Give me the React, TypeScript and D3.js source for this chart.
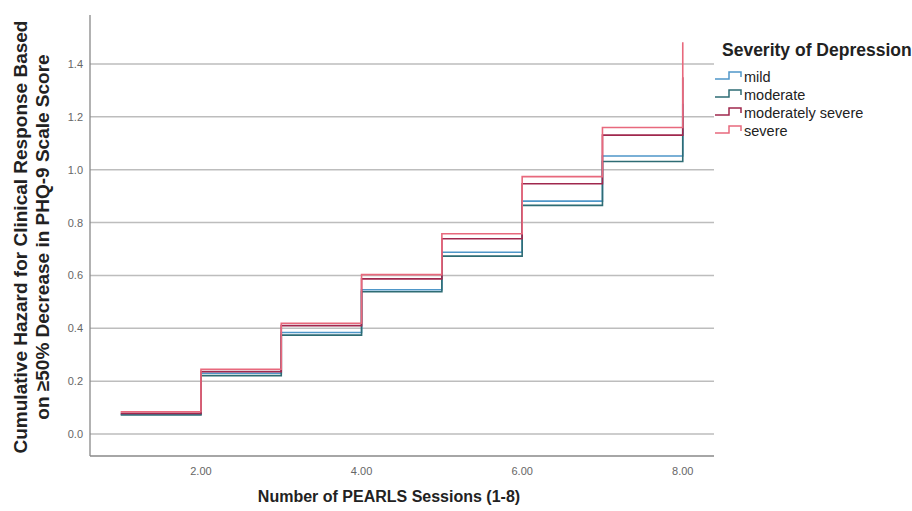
import React from "react";
import * as d3 from "d3";

// sessions and cumulative hazard
const sessions = [1, 2, 3, 4, 5, 6, 7, 8];
const mild = [0.075, 0.23, 0.384, 0.546, 0.688, 0.881, 1.052, 1.25];
const moderate = [0.072, 0.221, 0.374, 0.538, 0.673, 0.865, 1.031, 1.2];
const modSevere = [0.078, 0.236, 0.41, 0.587, 0.739, 0.947, 1.131, 1.35];
const severe = [0.084, 0.245, 0.419, 0.603, 0.758, 0.974, 1.16, 1.482];

const seriesNames = ["mild", "moderate", "moderately severe", "severe"];
const seriesValues = [mild, moderate, modSevere, severe];
const colors = ["#4f97c9", "#2e6c74", "#a0284e", "#e8697d"];

const xTicks = [2, 4, 6, 8];
const yTicks = [0, 0.2, 0.4, 0.6, 0.8, 1.0, 1.2, 1.4];

const W = 912;
const H = 511;
const font = "'Liberation Sans', Arial, sans-serif";

export default function App() {
  const left = 90, right = 714, top = 15, bottom = 456;

  const x = d3.scaleLinear().domain([0.618, 8.389]).range([left, right]);
  const y = d3.scaleLinear().domain([-0.0832, 1.5854]).range([bottom, top]);

  const line = d3
    .line<[number, number]>()
    .x((d) => x(d[0]))
    .y((d) => y(d[1]))
    .curve(d3.curveStepAfter);

  const legendX = 715;
  const legendY = [79, 97, 115, 133];

  return (
    <svg
      width={W}
      height={H}
      style={{ position: "absolute", left: 0, top: 0, background: "#fff" }}
      fontFamily={font}
    >
      {/* grid */}
      {yTicks.map((t) => (
        <line
          key={t}
          x1={left}
          x2={right}
          y1={y(t)}
          y2={y(t)}
          stroke="#bdbdbd"
          strokeWidth={1.5}
        />
      ))}
      {yTicks.map((t) => (
        <text
          key={"l" + t}
          x={83}
          y={y(t) + 4}
          fontSize={11}
          fill="#666"
          textAnchor="end"
        >
          {t.toFixed(1)}
        </text>
      ))}

      {/* axes */}
      <line x1={left} x2={left} y1={top} y2={bottom} stroke="#888" strokeWidth={1.3} />
      <line x1={left} x2={right} y1={bottom} y2={bottom} stroke="#888" strokeWidth={1.3} />
      {xTicks.map((t) => (
        <text
          key={"x" + t}
          x={x(t)}
          y={475}
          fontSize={11}
          fill="#666"
          textAnchor="middle"
        >
          {t.toFixed(2)}
        </text>
      ))}

      {/* step lines */}
      {seriesValues.map((vals, i) => (
        <path
          key={seriesNames[i]}
          d={line(sessions.map((s, j) => [s, vals[j]] as [number, number])) || ""}
          fill="none"
          stroke={colors[i]}
          strokeWidth={1.6}
        />
      ))}

      {/* axis titles */}
      <text
        x={389}
        y={502}
        fontSize={16}
        fontWeight="bold"
        fill="#222"
        textAnchor="middle"
      >
        Number of PEARLS Sessions (1-8)
      </text>
      <g transform="translate(27,237) rotate(-90)">
        <text x={0} y={0} fontSize={19} fontWeight="bold" fill="#222" textAnchor="middle">
          Cumulative Hazard for Clinical Response Based
        </text>
        <text x={0} y={22} fontSize={19} fontWeight="bold" fill="#222" textAnchor="middle">
          on ≥50% Decrease in PHQ-9 Scale Score
        </text>
      </g>

      {/* legend */}
      <text x={722} y={56} fontSize={17.5} fontWeight="bold" fill="#222">
        Severity of Depression
      </text>
      {seriesNames.map((name, i) => {
        const ly = legendY[i];
        return (
          <g key={"lg" + name}>
            <path
              d={`M${legendX},${ly}H${legendX + 14}V${ly - 7}H${legendX + 26}V${ly - 2}`}
              fill="none"
              stroke={colors[i]}
              strokeWidth={1.5}
            />
            <text x={744} y={ly + 3} fontSize={14.5} fill="#222">
              {name}
            </text>
          </g>
        );
      })}
    </svg>
  );
}
